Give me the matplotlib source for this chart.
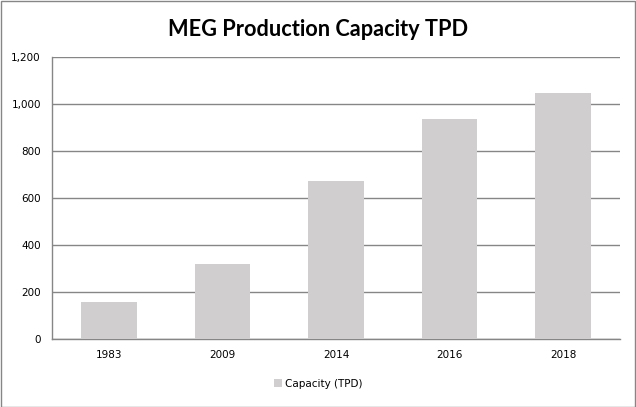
import matplotlib
matplotlib.use("Agg")
import matplotlib.pyplot as plt
import matplotlib.ticker as mticker
from matplotlib.patches import Rectangle

years = ["1983", "2009", "2014", "2016", "2018"]
capacity = [158, 320, 672, 936, 1048]
y_ticks = [0, 200, 400, 600, 800, 1000, 1200]

BAR_COLOR = "#D0CECE"
LINE_COLOR = "#868686"
TEXT_COLOR = "#000000"

plt.rcParams["font.family"] = ["DejaVu Sans"]

fig = plt.figure(figsize=(6.36, 4.07), dpi=100)
fig.patch.set_facecolor("white")
ax = fig.add_axes([52 / 636, 1 - 339 / 407, (620 - 52) / 636, (339 - 57) / 407])

x = range(len(years))
bars = ax.bar(x, capacity, width=0.49, color=BAR_COLOR, edgecolor="none",
              label="Capacity (TPD)", zorder=3)

ax.set_xlim(-0.5, len(years) - 0.5)
ax.set_ylim(0, 1200)
ax.set_yticks(y_ticks)
ax.yaxis.set_major_formatter(mticker.FuncFormatter(lambda v, _: f"{v:,.0f}"))
ax.set_xticks(list(x))
ax.set_xticklabels(years)

ax.grid(axis="y", color=LINE_COLOR, linewidth=1.0, zorder=0)
for side in ["top", "right"]:
    ax.spines[side].set_visible(False)
for side in ["left", "bottom"]:
    ax.spines[side].set_color(LINE_COLOR)
    ax.spines[side].set_linewidth(1.0)
ax.tick_params(axis="both", length=0, labelsize=7.5, colors=TEXT_COLOR, pad=8)

fig.text(0.5, 1 - 30 / 407, "MEG Production Capacity TPD", ha="center", va="center",
         fontsize=15.7, fontweight="bold", family="Lato", color=TEXT_COLOR)

fig.legend(handles=[bars], labels=["Capacity (TPD)"], loc="center",
           bbox_to_anchor=(0.5, 1 - 384 / 407), frameon=False, fontsize=7.5,
           handlelength=0.8, handleheight=0.8, handletextpad=0.3)

fig.patches.append(Rectangle((0.5 / 636, 0.5 / 407), 1 - 1.5 / 636, 1 - 1.5 / 407,
                             transform=fig.transFigure, fill=False,
                             edgecolor=LINE_COLOR, linewidth=1.0))

fig.savefig("out.png", dpi=100)
